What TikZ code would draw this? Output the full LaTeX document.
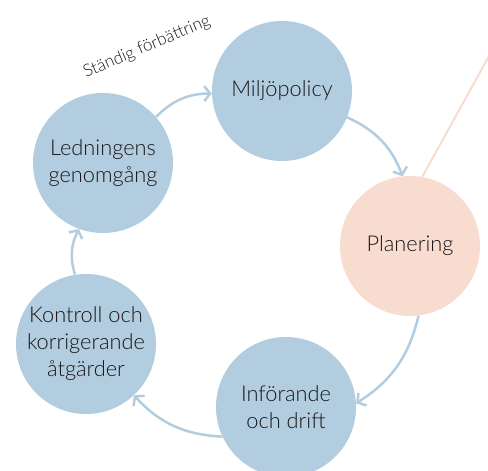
\documentclass[tikz,border=0pt]{standalone}
\usepackage{fontspec}
\setmainfont{Lato Light}
\usetikzlibrary{arrows.meta}
\definecolor{stegblue}{HTML}{B2CDDF}
\definecolor{stegrose}{HTML}{F9DCD0}
\definecolor{stegtext}{HTML}{1A1718}
\begin{document}
\begin{tikzpicture}[x=1pt,y=1pt,
		steg/.style={circle,fill=stegblue,minimum size=140pt,inner sep=0pt,align=center,text=stegtext,font=\fontsize{21.8}{27}\selectfont},
		flow/.style={draw=stegblue,line width=2.5pt,-{Straight Barb[length=6pt,width=15pt,line width=2.5pt]},bend left=22}]
	\clip (0,0) rectangle (488,471);
	\coordinate (far) at (520,471);
	\node[steg] (mil) at (282,380) {Miljöpolicy};
	\node[steg,fill=stegrose] (plan) at (410,225) {Planering};
	\node[steg] (inf) at (286,64) {Införande\\och drift};
	\node[steg] (kon) at (86,127) {Kontroll och\\korrigerande\\åtgärder};
	\node[steg] (led) at (103,308) {Ledningens\\genomgång};
	\draw[stegrose,line width=2pt] (plan.80) -- (far);
	\draw[flow] (led.41) to (mil.182);
	\draw[flow] (mil.-22) to (plan.96);
	\draw[flow] (plan.277) to (inf.3);
	\draw[flow] (inf.205) to (kon.313);
	\draw[flow] (kon.99) to (led.250);
	\node[rotate=23,text=stegtext,font=\fontsize{17}{19}\selectfont] (tag) at (147,424) {Ständig förbättring};
\end{tikzpicture}
\end{document}
